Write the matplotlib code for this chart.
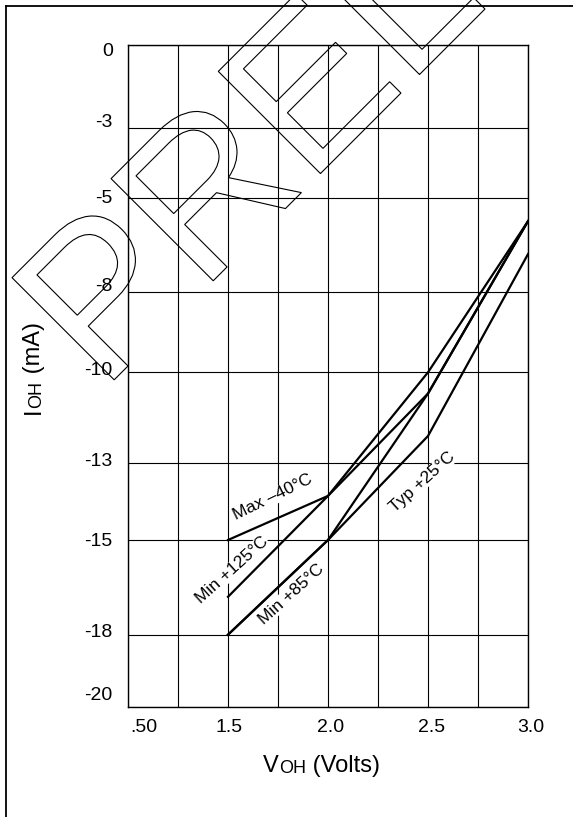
import numpy as np
import matplotlib.pyplot as plt
from matplotlib.textpath import TextPath
from matplotlib.patches import PathPatch
from matplotlib.font_manager import FontProperties
from matplotlib.transforms import Affine2D, ScaledTranslation
from matplotlib.lines import Line2D

plt.rcParams['font.family'] = ['Liberation Sans', 'DejaVu Sans']

# VOH (Volts) vs IOH (mA)
voh = [1.5, 2.0, 2.5, 3.0]
max_m40 = [-15.0, -13.85, -10.0, -5.75]
min_125 = [-16.8, -13.85, -10.7, -5.75]
min_85 = [-18.0, -15.0, -10.7, -5.75]
typ_25 = [-18.0, -15.0, -12.1, -6.8]

x_ticks = [1.0, 1.5, 2.0, 2.5, 3.0]
x_labels = ['.50', '1.5', '2.0', '2.5', '3.0']
y_ticks = [0, -3, -5, -8, -10, -13, -15, -18, -20]
y_labels = ['0', '-3', '-5', '-8', '-10', '-13', '-15', '-18', '-20']

# the original grid rows are not evenly spaced: pixel rows of each labelled line
y_rows = [45, 127.7, 197.7, 291.7, 372.3, 463.3, 540, 634.7, 707]
# small nudges (px) of the tick labels, as they sit in the original
y_nudge = [4, -7, -1, -7, -4, -4, 0, -4, -14]
x_nudge = [16, 1, 3, 4, 3]

W, H = 573, 817
fig = plt.figure(figsize=(W / 100, H / 100), dpi=100)
ax = fig.add_axes([128 / W, 1 - 707 / H, 400 / W, 662 / H])

yt = -np.array(y_ticks, dtype=float)


def fwd(y):
    return -np.interp(-np.asarray(y), yt, y_rows)


def inv(v):
    return -np.interp(-np.asarray(v), y_rows, yt)


ax.set_yscale('function', functions=(fwd, inv))
ax.set_xlim(1.0, 3.0)
ax.set_ylim(-20, 0)

ax.set_xticks(x_ticks, x_labels, fontsize=14)
ax.set_xticks(np.arange(1.0, 3.01, 0.25), minor=True)
ax.set_yticks(y_ticks, y_labels, fontsize=14)
ax.yaxis.set_minor_locator(plt.NullLocator())
ax.tick_params(which='both', length=0)
ax.tick_params(axis='x', pad=9)
ax.tick_params(axis='y', pad=11)
ax.grid(True, which='both', color='black', lw=0.8)
for s in ax.spines.values():
    s.set_linewidth(1.0)

for lbl, d in zip(ax.get_yticklabels(), y_nudge):
    lbl.set_transform(lbl.get_transform() + ScaledTranslation(0, -d / 100, fig.dpi_scale_trans))
for lbl, d in zip(ax.get_xticklabels(), x_nudge):
    lbl.set_transform(lbl.get_transform() + ScaledTranslation(d / 100, 0, fig.dpi_scale_trans))

for series in (max_m40, min_125, min_85, typ_25):
    ax.plot(voh, series, color='black', lw=1.6, zorder=3)

lab = dict(fontsize=12.5, ha='center', va='center', rotation_mode='anchor', zorder=4,
           bbox=dict(fc='white', ec='none', pad=0.3))
ax.text(1.725, -13.88, 'Max \u201340\u00b0C', rotation=26, **lab)
ax.text(1.52, -15.95, 'Min +125\u00b0C', rotation=42, **lab)
ax.text(1.815, -16.71, 'Min +85\u00b0C', rotation=42, **lab)
ax.text(2.47, -13.49, 'Typ +25\u00b0C', rotation=42, **lab)

# axis labels with small-caps subscripts
t = fig.text(263 / W, 1 - 777 / H, 'V', fontsize=17, ha='left', va='bottom')
t = ax.annotate('OH', xy=(1, 0), xycoords=t, fontsize=13, ha='left', va='bottom')
ax.annotate(' (Volts)', xy=(1, 0), xycoords=t, fontsize=17, ha='left', va='bottom')

t = fig.text(45 / W, 1 - 414 / H, 'I', fontsize=17, rotation=90, ha='right', va='bottom')
t = ax.annotate('OH', xy=(1, 1), xycoords=t, fontsize=13, rotation=90, ha='right', va='bottom')
ax.annotate(' (mA)', xy=(1, 1), xycoords=t, fontsize=17, rotation=90, ha='right', va='bottom')

# outlined PRELIMINARY stamp
tp = TextPath((0, 0), 'PRELIMINARY', size=210, prop=FontProperties(family='Liberation Sans'))
stamp = PathPatch(tp, fc='none', ec='black', lw=0.8,
                  transform=Affine2D().rotate_deg(45).translate(102, H - 392))
fig.add_artist(stamp)

# page frame
fig.add_artist(Line2D([6 / W, 6 / W], [0, 1 - 6 / H], color='black', lw=1.3))
fig.add_artist(Line2D([6 / W, 1], [1 - 6 / H, 1 - 6 / H], color='black', lw=1.3))

fig.savefig('out.png', dpi=100)
